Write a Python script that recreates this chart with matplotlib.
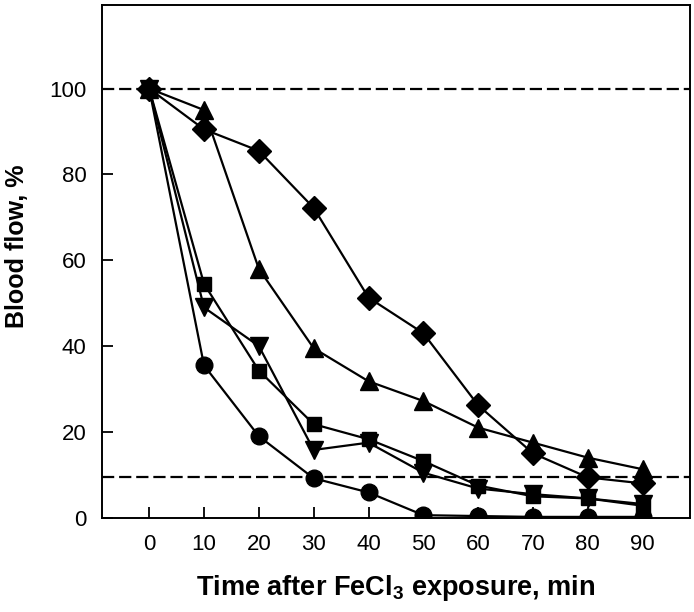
import numpy as np
import matplotlib.pyplot as plt

plt.rcParams['font.family'] = ['Liberation Sans', 'DejaVu Sans']
plt.rcParams['mathtext.fontset'] = 'custom'
plt.rcParams['mathtext.rm'] = 'Liberation Sans'
plt.rcParams['mathtext.bf'] = 'Liberation Sans:bold'

# data
time = [0, 10, 20, 30, 40, 50, 60, 70, 80, 90]
circle = [100, 35.5, 19, 9.2, 5.9, 0.6, 0.4, 0.2, 0.2, 0.2]
square = [100, 54.5, 34.3, 21.8, 18.3, 13.2, 7.5, 5.0, 4.5, 2.8]
tri_down = [100, 49, 40, 15.8, 17.5, 10.5, 6.8, 5.5, 4.5, 3.2]
tri_up = [100, 95, 58, 39.5, 31.8, 27.2, 21, 17.5, 14, 11.3]
diamond = [100, 90.5, 85.5, 72.2, 51.3, 43, 26.2, 15, 9.4, 8]
ref_lines = [100, 9.4]

fig = plt.figure(figsize=(6.94, 6.12), dpi=100)
ax = fig.add_axes([0.147, 0.154, 0.847, 0.838])

for yv in ref_lines:
    ax.axhline(yv, color='black', linestyle=(0, (5.5, 2.2)), linewidth=1.6, zorder=1)

kw = dict(color='black', linewidth=1.6, zorder=3)
ax.plot(time, diamond, marker='D', markersize=12.5, **kw)
ax.plot(time, tri_up, marker='^', markersize=13, **kw)
ax.plot(time, square, marker='s', markersize=10.5, **kw)
ax.plot(time, tri_down, marker='v', markersize=13, **kw)
ax.plot(time, circle, marker='o', markersize=12, **kw)

ax.set_xlim(-8.6, 98.6)
ax.set_ylim(0, 119.5)
ax.set_xticks(time)
ax.set_yticks([0, 20, 40, 60, 80, 100])
ax.tick_params(direction='in', length=8, width=1.3, labelsize=16, pad=12)
ax.tick_params(axis='y', pad=11)
for s in ax.spines.values():
    s.set_linewidth(1.4)

ax.set_xlabel(r'Time after FeCl$_{\mathbf{3}}$ exposure, min', fontsize=19.5, fontweight='bold')
ax.set_ylabel('Blood flow, %', fontsize=18, fontweight='bold')
ax.xaxis.set_label_coords(0.5, -0.108)
ax.yaxis.set_label_coords(-0.125, 0.53)

fig.savefig('out.png', dpi=100)
